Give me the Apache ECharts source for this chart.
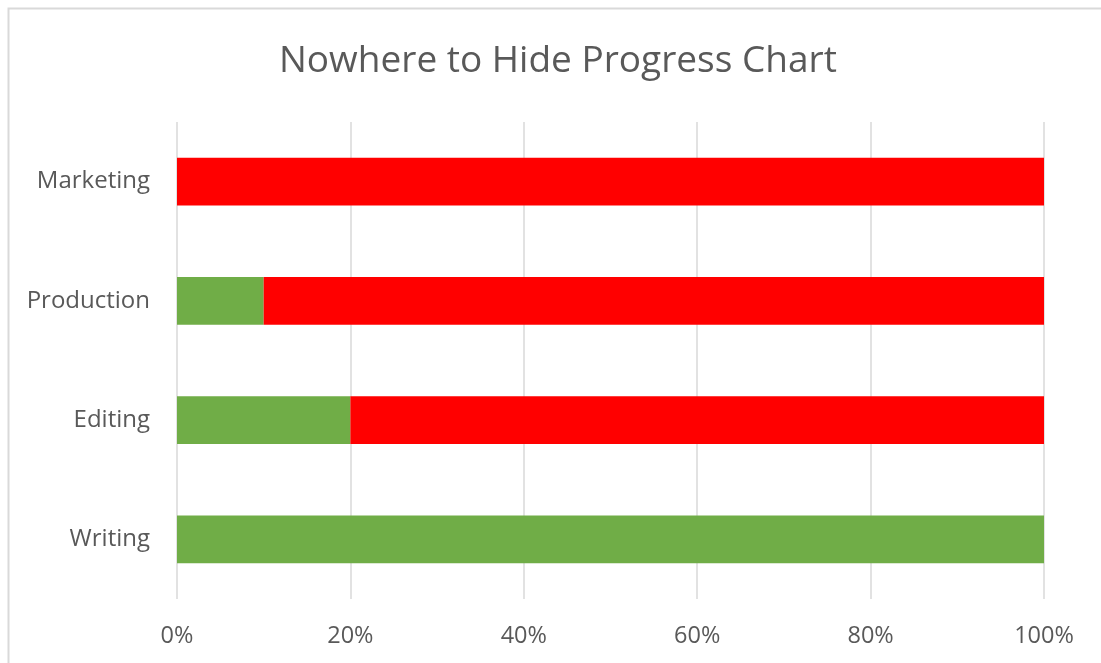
<!DOCTYPE html>
<html>
<head>
<meta charset="utf-8">
<script src="https://cdn.jsdelivr.net/npm/echarts@6/dist/echarts.min.js"></script>
<style>
    html, body { margin: 0; padding: 0; background: #fff; }
    #chart { width: 1101px; height: 663px; }
</style>
</head>
<body>
<div id="chart"></div>
<script>
const categories = ['Writing', 'Editing', 'Production', 'Marketing'];
const doneValues = [100, 20, 10, 0];
const todoValues = [0, 80, 90, 100];
const xTicks = [0, 20, 40, 60, 80, 100];

var myChart = echarts.init(document.getElementById('chart'));

// same font everywhere, Calibri is not around
const FONT = 'Open Sans';

option = {
    animation: false,
    title: {
        text: 'Nowhere to Hide Progress Chart',
        left: 274,
        top: 38,
        textStyle: { fontFamily: FONT, fontSize: 37, fontWeight: 'normal', color: '#595959' }
    },
    graphic: [{
        type: 'rect',
        shape: { x: 8.5, y: 8.5, width: 1200, height: 700 },
        style: { fill: 'none', stroke: '#d9d9d9', lineWidth: 2 },
        silent: true
    }],
    grid: { left: 177, right: 57, top: 122, bottom: 64 },
    xAxis: {
        type: 'value',
        min: xTicks[0],
        max: xTicks[xTicks.length - 1],
        interval: 20,
        axisLine: { show: false },
        axisTick: { show: false },
        splitLine: { lineStyle: { color: '#d9d9d9', width: 1.5 } },
        axisLabel: {
            formatter: '{value}%',
            margin: 25,
            fontFamily: FONT, fontSize: 23.5, color: '#595959'
        }
    },
    yAxis: {
        type: 'category',
        data: categories,
        axisLine: { show: false },
        axisTick: { show: false },
        axisLabel: { margin: 27, fontFamily: FONT, fontSize: 24, color: '#595959' }
    },
    series: [
        {
            name: 'Done', type: 'bar', stack: 'total',
            data: doneValues,
            barCategoryGap: '60%',
            itemStyle: { color: '#70ad47' }
        },
        {
            name: 'To do', type: 'bar', stack: 'total',
            data: todoValues,
            barCategoryGap: '60%',
            itemStyle: { color: '#ff0000' }
        }
    ]
};

myChart.setOption(option, true);
</script>
</body>
</html>
